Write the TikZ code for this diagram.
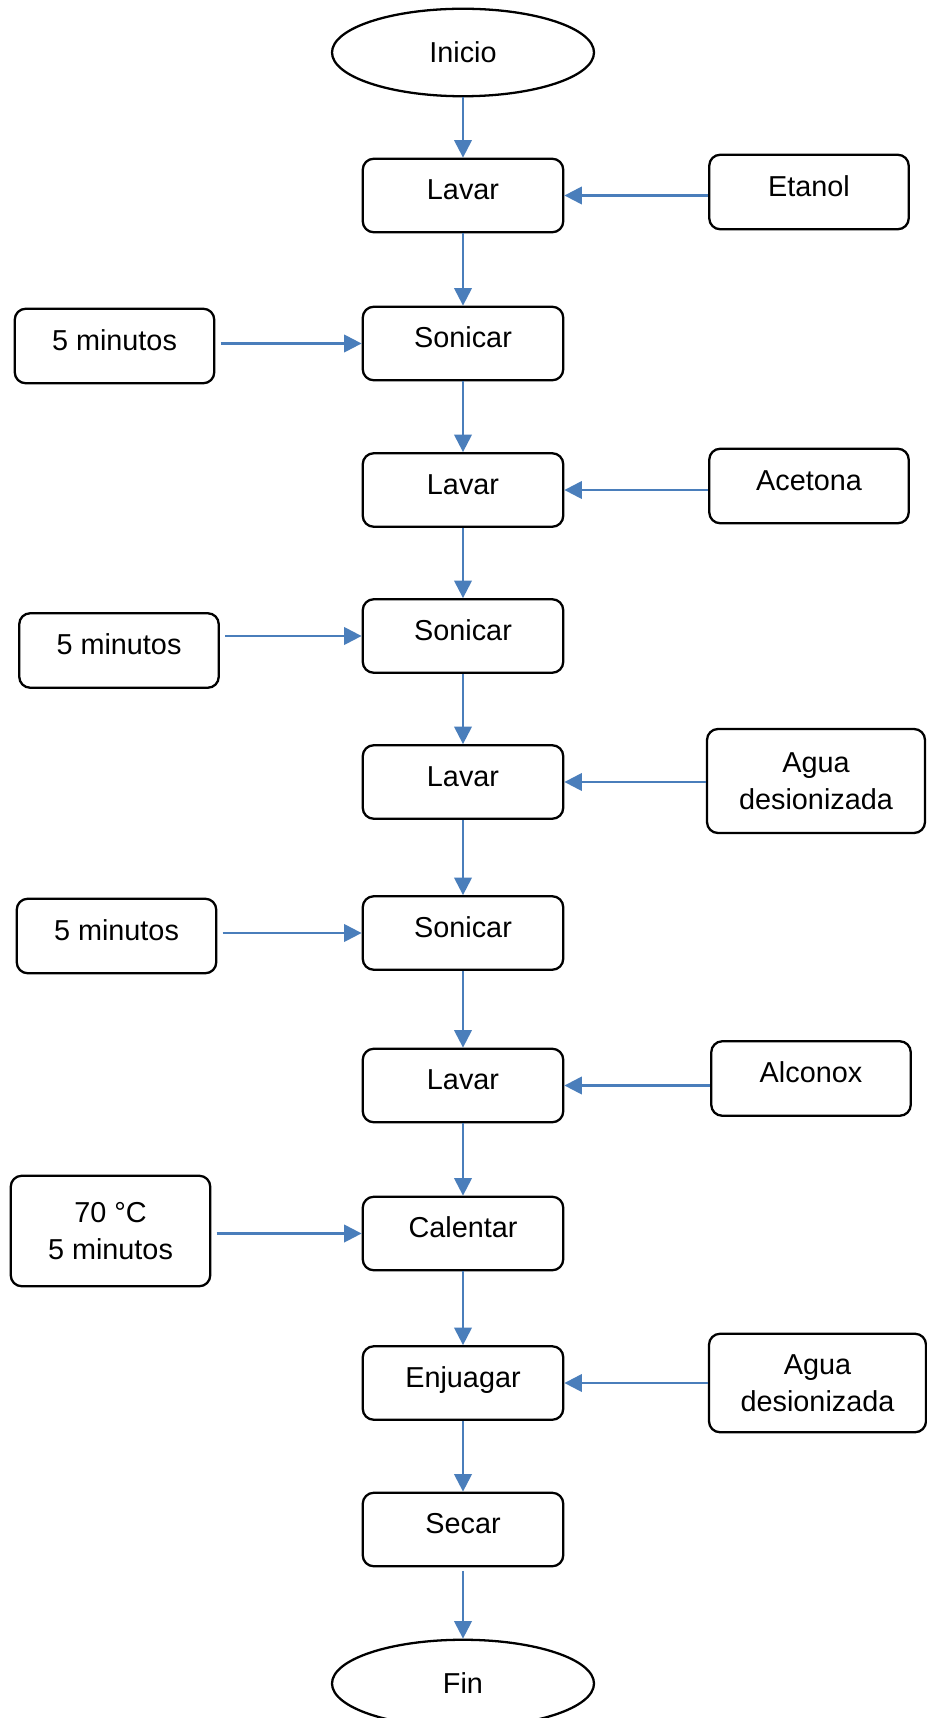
\documentclass[tikz,border=0pt]{standalone}
\usepackage{fontspec}
\setmainfont{Liberation Sans}
\usetikzlibrary{shapes.geometric,arrows.meta}
\definecolor{flowblue}{RGB}{74,126,187}
\tikzset{
  base/.style={draw=black, line width=1.3pt, font=\fontsize{16.4}{21}\selectfont, align=center, inner sep=0pt},
  terminal/.style={base, ellipse, minimum width=5.24cm, minimum height=1.75cm},
  proc/.style={base, rounded corners=0.22cm, minimum width=4.01cm, minimum height=1.47cm, text height=0.72em, text depth=0.26em},
  input/.style={base, rounded corners=0.22cm, minimum width=3.99cm, minimum height=1.49cm},
  oneline/.style={text height=0.72em, text depth=0.26em},
  flow/.style={draw=flowblue, line width=1.3pt, -{Triangle[length=10pt,width=10pt]}}
}
\begin{document}
\begin{tikzpicture}
\useasboundingbox (0,0) rectangle (18.52,-34.36);

% Main column
\node[terminal] (inicio) at (9.26,-1.05) {Inicio};
\node[proc] (lavar1) at (9.26,-3.91) {Lavar};
\node[proc] (sonicar1) at (9.26,-6.87) {Sonicar};
\node[proc] (lavar2) at (9.26,-9.80) {Lavar};
\node[proc] (sonicar2) at (9.26,-12.72) {Sonicar};
\node[proc] (lavar3) at (9.26,-15.64) {Lavar};
\node[proc] (sonicar3) at (9.26,-18.66) {Sonicar};
\node[proc] (lavar4) at (9.26,-21.71) {Lavar};
\node[proc] (calentar) at (9.26,-24.67) {Calentar};
\node[proc] (enjuagar) at (9.26,-27.66) {Enjuagar};
\node[proc] (secar) at (9.26,-30.59) {Secar};
\node[terminal] (fin) at (9.26,-33.67) {Fin};

% Inputs on the right
\node[input, oneline] (etanol) at (16.18,-3.84) {Etanol};
\node[input, oneline] (acetona) at (16.18,-9.72) {Acetona};
\node[input, minimum width=4.36cm, minimum height=2.08cm] (agua1) at (16.32,-15.62) {Agua\\desionizada};
\node[input, oneline] (alconox) at (16.22,-21.57) {Alconox};
\node[input, minimum width=4.34cm, minimum height=1.97cm] (agua2) at (16.35,-27.66) {Agua\\desionizada};

% Conditions on the left
\node[input, oneline] (tiempo1) at (2.29,-6.92) {5 minutos};
\node[input, oneline] (tiempo2) at (2.38,-13.01) {5 minutos};
\node[input, oneline] (tiempo3) at (2.33,-18.72) {5 minutos};
\node[input, minimum height=2.21cm] (temp) at (2.21,-24.62) {70 °C\\5 minutos};

% Vertical flow
\foreach \a/\b in {inicio/lavar1, lavar1/sonicar1, sonicar1/lavar2, lavar2/sonicar2,
                   sonicar2/lavar3, lavar3/sonicar3, sonicar3/lavar4, lavar4/calentar,
                   calentar/enjuagar, enjuagar/secar}
    \draw[flow] (\a) -- (\b);
\draw[flow, shorten <=2pt] (secar) -- (fin);

% Side inputs
\foreach \s/\m in {etanol/lavar1, acetona/lavar2, agua1/lavar3, alconox/lavar4, agua2/enjuagar}
    \draw[flow] (\s.west |- \m.east) -- (\m.east);
\foreach \s/\m in {tiempo1/sonicar1, tiempo2/sonicar2, tiempo3/sonicar3, temp/calentar}
    \draw[flow, shorten <=3pt] (\s.east |- \m.west) -- (\m.west);
\end{tikzpicture}
\end{document}
